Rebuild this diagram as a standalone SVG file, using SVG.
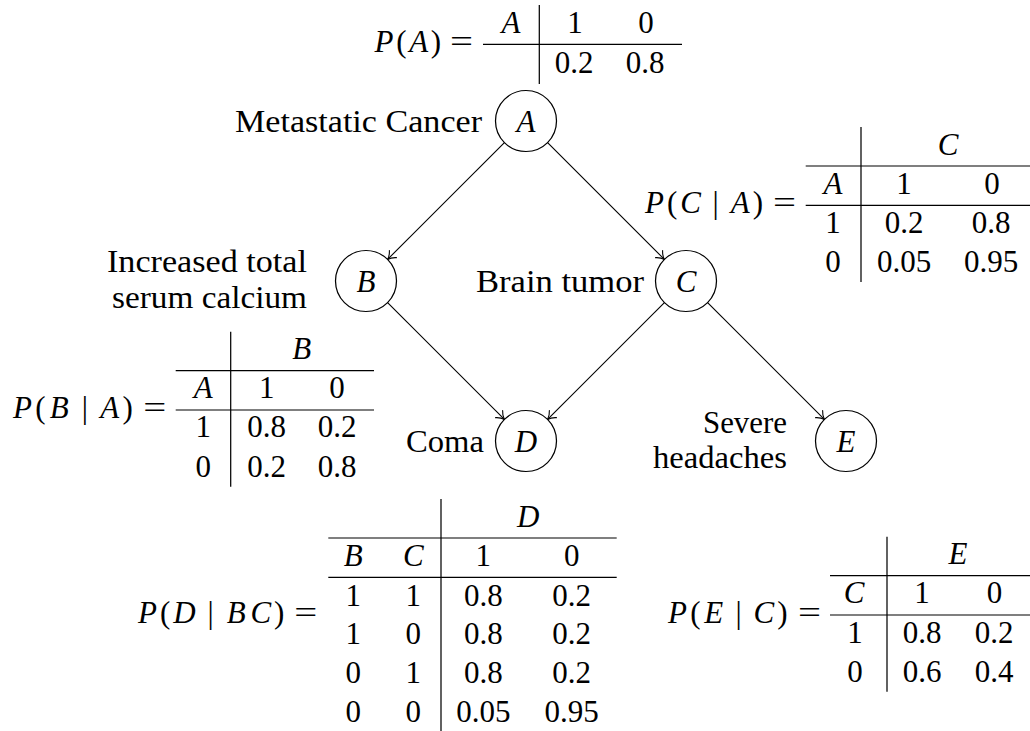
<svg xmlns="http://www.w3.org/2000/svg" width="1030" height="731" viewBox="0 0 1030 731">
<style>
.t{font-family:"Liberation Serif","Tinos","Times New Roman","Nimbus Roman","FreeSerif","DejaVu Serif",serif;font-size:31px;fill:#000}
.i{font-style:italic}
.c{text-anchor:middle}
.r{text-anchor:end}
.rule{stroke:#000;stroke-width:1.24;fill:none}
.nd{fill:#fff;stroke:#000;stroke-width:1.24}
.edge{stroke:#000;stroke-width:1.1;fill:none;marker-end:url(#arr)}
</style>
<defs>
<marker id="arr" markerUnits="userSpaceOnUse" markerWidth="14" markerHeight="14" viewBox="-11 -7 14 14" refX="0" refY="0" orient="auto" overflow="visible">
<path d="M -7.5 -5 C -5 -2.2 -2.2 -0.6 0 0 C -2.2 0.6 -5 2.2 -7.5 5" fill="none" stroke="#000" stroke-width="1.1" stroke-linecap="round"/>
</marker>
</defs>
<rect width="1030" height="731" fill="#fff"/>
<g id="edges">
<line class="edge" x1="504.4" y1="142.6" x2="387.6" y2="259.4"/>
<line class="edge" x1="547.6" y1="142.6" x2="664.4" y2="259.4"/>
<line class="edge" x1="387.6" y1="302.6" x2="504.4" y2="419.4"/>
<line class="edge" x1="664.4" y1="302.6" x2="547.6" y2="419.4"/>
<line class="edge" x1="707.6" y1="302.6" x2="824.4" y2="419.4"/>
</g>
<g id="node-A">
<circle class="nd" cx="526" cy="121" r="30.5"/>
<text class="t i c" x="526" y="131.7">A</text>
<text class="t r" x="482" y="131.7" textLength="247" lengthAdjust="spacingAndGlyphs">Metastatic Cancer</text>
</g>
<g id="node-B">
<circle class="nd" cx="366" cy="281" r="30.5"/>
<text class="t i c" x="366" y="291.7">B</text>
<text class="t r" x="307" y="272" textLength="200" lengthAdjust="spacingAndGlyphs">Increased total</text>
<text class="t r" x="307" y="307.5" textLength="195" lengthAdjust="spacingAndGlyphs">serum calcium</text>
</g>
<g id="node-C">
<circle class="nd" cx="686" cy="281" r="30.5"/>
<text class="t i c" x="686" y="291.7">C</text>
<text class="t r" x="644" y="291.7" textLength="168" lengthAdjust="spacingAndGlyphs">Brain tumor</text>
</g>
<g id="node-D">
<circle class="nd" cx="526" cy="441" r="30.5"/>
<text class="t i c" x="526" y="451.7">D</text>
<text class="t r" x="484" y="451.7" textLength="78" lengthAdjust="spacingAndGlyphs">Coma</text>
</g>
<g id="node-E">
<circle class="nd" cx="846" cy="441" r="30.5"/>
<text class="t i c" x="846" y="451.7">E</text>
<text class="t r" x="787" y="433.3" textLength="84" lengthAdjust="spacingAndGlyphs">Severe</text>
<text class="t r" x="787" y="468.3" textLength="134" lengthAdjust="spacingAndGlyphs">headaches</text>
</g>
<g id="cpt-A">
<text class="t c" y="52"><tspan class="i" x="384">P</tspan><tspan x="401.4">(</tspan><tspan class="i" x="418.7">A</tspan><tspan x="435.8">)</tspan></text>
<text class="t c" x="461.5" y="52" textLength="23" lengthAdjust="spacingAndGlyphs">=</text>
<line class="rule" x1="483" y1="44.3" x2="682" y2="44.3"/>
<line class="rule" x1="539.3" y1="5" x2="539.3" y2="84"/>
<text class="t i c" x="511" y="33">A</text>
<text class="t c" x="575" y="33">1</text>
<text class="t c" x="646" y="33">0</text>
<text class="t c" x="574" y="72.5">0.2</text>
<text class="t c" x="645" y="72.5">0.8</text>
</g>
<g id="cpt-C">
<text class="t c" y="212.7"><tspan class="i" x="654.4">P</tspan><tspan x="672.2">(</tspan><tspan class="i" x="690.5">C</tspan><tspan x="715.6">|</tspan><tspan class="i" x="740.1">A</tspan><tspan x="757.8">)</tspan></text>
<text class="t c" x="784.5" y="212.7" textLength="23" lengthAdjust="spacingAndGlyphs">=</text>
<line class="rule" x1="805.7" y1="166" x2="1030" y2="166"/>
<line class="rule" x1="805.7" y1="205.3" x2="1030" y2="205.3"/>
<line class="rule" x1="861" y1="127" x2="861" y2="282"/>
<text class="t i c" x="948" y="154.5">C</text>
<text class="t i c" x="833" y="193.5">A</text>
<text class="t c" x="904" y="193.5">1</text>
<text class="t c" x="992" y="193.5">0</text>
<text class="t c" x="833" y="232.5">1</text>
<text class="t c" x="904" y="232.5">0.2</text>
<text class="t c" x="991" y="232.5">0.8</text>
<text class="t c" x="833" y="271.7">0</text>
<text class="t c" x="904" y="271.7">0.05</text>
<text class="t c" x="991" y="271.7">0.95</text>
</g>
<g id="cpt-B">
<text class="t c" y="417.5"><tspan class="i" x="22.5">P</tspan><tspan x="40.5">(</tspan><tspan class="i" x="59.3">B</tspan><tspan x="84.9">|</tspan><tspan class="i" x="109.8">A</tspan><tspan x="127.7">)</tspan></text>
<text class="t c" x="154.7" y="417.5" textLength="23" lengthAdjust="spacingAndGlyphs">=</text>
<line class="rule" x1="175.7" y1="370.7" x2="374" y2="370.7"/>
<line class="rule" x1="175.7" y1="410" x2="374" y2="410"/>
<line class="rule" x1="230.7" y1="331.7" x2="230.7" y2="486.7"/>
<text class="t i c" x="301.7" y="359.3">B</text>
<text class="t i c" x="203.3" y="398.3">A</text>
<text class="t c" x="266.7" y="398.3">1</text>
<text class="t c" x="337" y="398.3">0</text>
<text class="t c" x="203.3" y="437.3">1</text>
<text class="t c" x="266.7" y="437.3">0.8</text>
<text class="t c" x="337" y="437.3">0.2</text>
<text class="t c" x="203.3" y="476.7">0</text>
<text class="t c" x="266.7" y="476.7">0.2</text>
<text class="t c" x="337" y="476.7">0.8</text>
</g>
<g id="cpt-D">
<text class="t c" y="622.5"><tspan class="i" x="147.4">P</tspan><tspan x="165.2">(</tspan><tspan class="i" x="184.5">D</tspan><tspan x="210.7">|</tspan><tspan class="i" x="236.1">B</tspan><tspan class="i" x="260.9">C</tspan><tspan x="279.1">)</tspan></text>
<text class="t c" x="305.7" y="622.5" textLength="23" lengthAdjust="spacingAndGlyphs">=</text>
<line class="rule" x1="328.3" y1="538" x2="616.7" y2="538"/>
<line class="rule" x1="328.3" y1="577.4" x2="616.7" y2="577.4"/>
<line class="rule" x1="441" y1="499" x2="441" y2="731"/>
<text class="t i c" x="528.3" y="526.7">D</text>
<text class="t i c" x="353.3" y="565.7">B</text>
<text class="t i c" x="413.3" y="565.7">C</text>
<text class="t c" x="483.3" y="565.7">1</text>
<text class="t c" x="571.7" y="565.7">0</text>
<text class="t c" x="353.3" y="605.5">1</text>
<text class="t c" x="413.3" y="605.5">1</text>
<text class="t c" x="483.3" y="605.5">0.8</text>
<text class="t c" x="571.7" y="605.5">0.2</text>
<text class="t c" x="353.3" y="644.2">1</text>
<text class="t c" x="413.3" y="644.2">0</text>
<text class="t c" x="483.3" y="644.2">0.8</text>
<text class="t c" x="571.7" y="644.2">0.2</text>
<text class="t c" x="353.3" y="683">0</text>
<text class="t c" x="413.3" y="683">1</text>
<text class="t c" x="483.3" y="683">0.8</text>
<text class="t c" x="571.7" y="683">0.2</text>
<text class="t c" x="353.3" y="721.7">0</text>
<text class="t c" x="413.3" y="721.7">0</text>
<text class="t c" x="483.3" y="721.7">0.05</text>
<text class="t c" x="571.7" y="721.7">0.95</text>
</g>
<g id="cpt-E">
<text class="t c" y="622.5"><tspan class="i" x="677.5">P</tspan><tspan x="695.5">(</tspan><tspan class="i" x="713.6">E</tspan><tspan x="738.6">|</tspan><tspan class="i" x="763.9">C</tspan><tspan x="782.4">)</tspan></text>
<text class="t c" x="809.4" y="622.5" textLength="23" lengthAdjust="spacingAndGlyphs">=</text>
<line class="rule" x1="830" y1="575.7" x2="1030" y2="575.7"/>
<line class="rule" x1="830" y1="615" x2="1030" y2="615"/>
<line class="rule" x1="887" y1="536.7" x2="887" y2="691.7"/>
<text class="t i c" x="958" y="564.3">E</text>
<text class="t i c" x="854" y="603.3">C</text>
<text class="t c" x="922" y="603.3">1</text>
<text class="t c" x="994.5" y="603.3">0</text>
<text class="t c" x="855" y="642.8">1</text>
<text class="t c" x="922" y="642.8">0.8</text>
<text class="t c" x="994" y="642.8">0.2</text>
<text class="t c" x="855" y="681.7">0</text>
<text class="t c" x="922" y="681.7">0.6</text>
<text class="t c" x="994" y="681.7">0.4</text>
</g>
</svg>
